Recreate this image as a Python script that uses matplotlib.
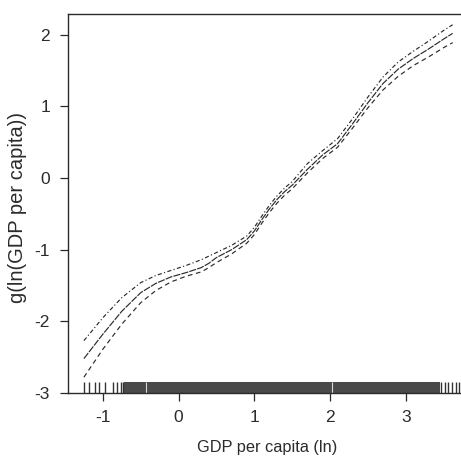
import matplotlib
matplotlib.use("Agg")
import matplotlib.pyplot as plt
import numpy as np

# ---- data ----
x_vals = [-1.25, -1.0, -0.75, -0.5, -0.3, -0.1, 0.1, 0.3, 0.4, 0.5, 0.7, 0.9, 1.0,
          1.1, 1.2, 1.3, 1.4, 1.5, 1.7, 1.9, 2.1, 2.3, 2.5, 2.7, 2.9, 3.1, 3.3,
          3.5, 3.62]
g_mid = [-2.52, -2.18, -1.86, -1.60, -1.47, -1.38, -1.32, -1.25, -1.19, -1.11, -1.00,
         -0.86, -0.74, -0.58, -0.43, -0.30, -0.19, -0.10, 0.12, 0.32, 0.48, 0.76,
         1.05, 1.32, 1.52, 1.67, 1.80, 1.94, 2.02]
g_upper = [-2.27, -1.95, -1.67, -1.46, -1.36, -1.29, -1.22, -1.14, -1.09, -1.04, -0.94,
           -0.81, -0.69, -0.53, -0.38, -0.25, -0.14, -0.05, 0.20, 0.38, 0.55, 0.83,
           1.13, 1.41, 1.62, 1.77, 1.91, 2.06, 2.14]
g_lower = [-2.78, -2.39, -2.04, -1.74, -1.57, -1.45, -1.37, -1.31, -1.25, -1.18, -1.06,
           -0.91, -0.79, -0.63, -0.48, -0.35, -0.24, -0.15, 0.07, 0.27, 0.43, 0.70,
           0.98, 1.23, 1.42, 1.57, 1.69, 1.82, 1.89]

rug_sparse = [-1.243, -1.186, -1.11, -1.044, -0.973, -0.867, -0.809, -0.755, -0.734,
              3.468, 3.513, 3.557, 3.61, 3.66, 3.70]
rug_dense = (-0.72, 3.447)
rug_gaps = [-0.43, 2.02]

x_ticks = [-1, 0, 1, 2, 3]
y_ticks = [-3, -2, -1, 0, 1, 2]
x_label = "GDP per capita (ln)"
y_label = "g(ln(GDP per capita))"

# ---- figure ----
plt.rcParams['font.family'] = ['Liberation Sans', 'DejaVu Sans']
plt.rcParams['axes.unicode_minus'] = False
ink = '#2b2b2b'
fig = plt.figure(figsize=(4.61, 4.62), dpi=100)
ax = fig.add_axes([0.1475, 0.1494, 0.8525, 0.8203])
ax.set_xlim(-1.46, 3.73)
ax.set_ylim(-3.0, 2.29)

ax.plot(x_vals, g_upper, color=ink, lw=0.85, linestyle=(0, (3.5, 2, 1, 2)))
ax.plot(x_vals, g_mid, color=ink, lw=0.85, linestyle=(0, (6, 1)))
ax.plot(x_vals, g_lower, color=ink, lw=0.85, linestyle=(0, (4, 3)))

# rug
tr = ax.get_xaxis_transform()
rug_h = 0.03
ax.vlines(rug_sparse, 0, rug_h, transform=tr, color='#333333', lw=1.0)
ax.fill_between(list(rug_dense), [0, 0], [rug_h, rug_h], transform=tr,
                color='#4a4a4a', lw=0)
ax.vlines(rug_gaps, 0, rug_h, transform=tr, color='#d8d8d8', lw=0.8)

for s in ['left', 'bottom', 'top']:
    ax.spines[s].set_color(ink)
    ax.spines[s].set_linewidth(1.0)
ax.spines['right'].set_visible(False)

ax.set_xticks(x_ticks)
ax.set_yticks(y_ticks)
ax.tick_params(axis='both', direction='out', length=6, width=0.9, color=ink,
               labelsize=12.5, labelcolor=ink)
ax.tick_params(axis='x', pad=6)
ax.tick_params(axis='y', pad=7)
ax.set_xlabel(x_label, fontsize=11.8, color=ink)
ax.xaxis.set_label_coords(0.506, -0.125)
ax.set_ylabel(y_label, fontsize=14.5, color=ink)
ax.yaxis.set_label_coords(-0.105, 0.49)

fig.savefig("out.png", dpi=100)
